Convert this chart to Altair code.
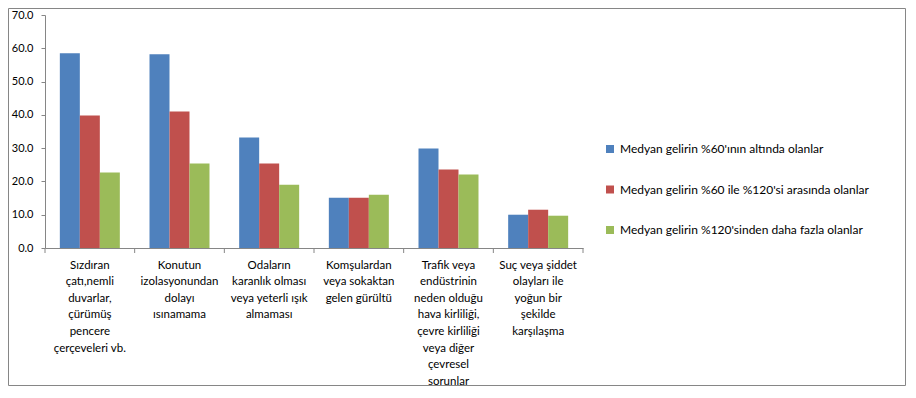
import altair as alt
import pandas as pd

categories = [
    "Sızdıran|çatı,nemli|duvarlar,|çürümüş|pencere|çerçeveleri vb.",
    "Konutun|izolasyonundan|dolayı|ısınamama",
    "Odaların|karanlık olması|veya yeterli ışık|almaması",
    "Komşulardan|veya sokaktan|gelen gürültü",
    "Trafik veya|endüstrinin|neden olduğu|hava kirliliği,|çevre kirliliği|veya diğer|çevresel|sorunlar",
    "Suç veya şiddet|olayları ile|yoğun bir|şekilde|karşılaşma",
]
series = [
    "Medyan gelirin %60'ının altında  olanlar",
    "Medyan gelirin %60 ile %120'si arasında olanlar",
    "Medyan gelirin  %120'sinden daha fazla olanlar",
]
below60 = [58.5, 58.2, 33.2, 15.1, 29.9, 10.0]
between60_120 = [39.8, 41.0, 25.4, 15.1, 23.6, 11.5]
above120 = [22.7, 25.4, 19.0, 16.0, 22.1, 9.7]
colors = ["#4F81BD", "#C0504D", "#9BBB59"]
y_ticks = [0, 10, 20, 30, 40, 50, 60, 70]

rows = []
for s, vals in zip(series, [below60, between60_120, above120]):
    for c, v in zip(categories, vals):
        rows.append({"cat": c, "series": s, "value": v})
df = pd.DataFrame(rows)
cat_df = pd.DataFrame({"cat": categories})

W, H = 538, 233
PL, PT, PR, PB = 37, 7, 323, 138
FONT = "Lato"

xscale = alt.Scale(domain=categories, paddingInner=0, paddingOuter=0)
xaxis = alt.Axis(labelAngle=0, ticks=False,
                 labelAlign="center", labelBaseline="top",
                 labelExpr="split(datum.label, '|')",
                 labelLineHeight=16.6, labelPadding=11,
                 labelFont=FONT, labelFontSize=11.5, labelColor="#000000",
                 labelOverlap=False, labelLimit=200,
                 domainColor="#868686", grid=False)

bars = alt.Chart(df).mark_bar().encode(
    x=alt.X("cat:N", sort=categories, title=None, scale=xscale, axis=xaxis),
    xOffset=alt.XOffset("series:N", sort=series,
                        scale=alt.Scale(paddingInner=0, paddingOuter=0.742)),
    y=alt.Y("value:Q", title=None,
            scale=alt.Scale(domain=[0, 70], nice=False),
            axis=alt.Axis(values=y_ticks, format=".1f", grid=False,
                          labelFont=FONT, labelFontSize=11, labelColor="#000000",
                          domainColor="#868686", tickColor="#868686",
                          tickSize=4, labelPadding=8)),
    color=alt.Color("series:N", sort=series,
                    scale=alt.Scale(domain=series, range=colors),
                    legend=alt.Legend(title=None, orient="none", legendX=559, legendY=128,
                                      symbolType="square", symbolSize=64,
                                      symbolStrokeWidth=0, labelFont=FONT,
                                      labelFontSize=12, labelColor="#000000",
                                      labelLimit=400, rowPadding=28.5, labelOffset=4)),
)

# category boundary ticks below the x axis
cat_ticks = alt.Chart(cat_df).mark_rule(color="#868686").encode(
    x=alt.X("cat:N", sort=categories, title=None, scale=xscale, axis=xaxis,
            bandPosition=0),
    y=alt.value(H), y2=alt.value(H + 5)
)
end_tick = alt.Chart(pd.DataFrame({"a": [0]})).mark_rule(color="#868686").encode(
    x=alt.value(W), y=alt.value(H), y2=alt.value(H + 5)
)

border = alt.Chart(pd.DataFrame({"a": [0]})).mark_rect(
    fill=None, stroke="#868686", strokeWidth=1
).encode(
    x=alt.value(-PL + 0.5), x2=alt.value(W + PR - 0.5),
    y=alt.value(-PT + 0.5), y2=alt.value(H + PB - 0.5)
)

chart = alt.layer(bars, cat_ticks, end_tick, border).properties(
    width=W, height=H,
    autosize=alt.AutoSizeParams(type="none"),
    padding={"left": PL, "top": PT, "right": PR, "bottom": PB},
).configure_view(stroke=None)

chart.save("out.html", embed_options={"renderer": "svg", "actions": False})
